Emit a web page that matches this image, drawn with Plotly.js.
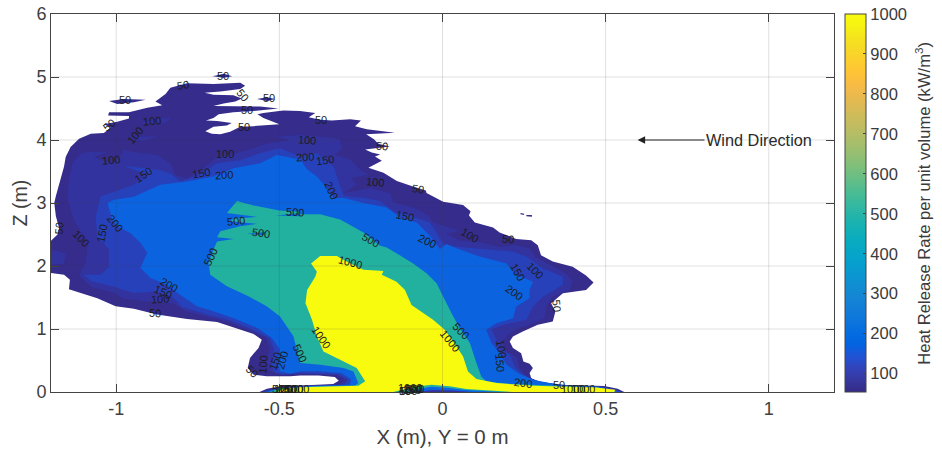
<!DOCTYPE html>
<html><head><meta charset="utf-8">
<script src="https://cdn.plot.ly/plotly-3.0.1.min.js"></script>
<style>html,body{margin:0;padding:0;background:#fff}</style></head>
<body><div id="chart" style="width:942px;height:452px"></div>
<script>
// Contour outlines, as [X (m), Z (m)]
const level50 = [[-1.2,1.89],[-1.16,1.86],[-1.142,1.78],[-1.145,1.63],[-1.109,1.57],[-1.058,1.49],[-1.002,1.36],[-.946,1.32],[-.875,1.23],[-.783,1.16],[-.691,1.11],[-.64,1.02],[-.579,.92],[-.554,.83],[-.564,.70],[-.59,.54],[-.597,.38],[-.579,.275],[-.539,.25],[-.467,.25],[-.436,.26],[-.38,.26],[-.33,.237],[-.318,.18],[-.335,.127],[-.40,.113],[-.497,.09],[-.538,.05],[-.561,0],[.557,0],[.537,.05],[.496,.095],[.379,.112],[.302,.153],[.272,.22],[.267,.30],[.277,.38],[.267,.45],[.248,.485],[.241,.617],[.216,.697],[.206,.80],[.216,.88],[.246,.96],[.292,1.066],[.338,1.12],[.346,1.277],[.333,1.41],[.369,1.567],[.44,1.62],[.463,1.74],[.44,1.85],[.399,1.99],[.338,2.07],[.302,2.17],[.292,2.33],[.272,2.41],[.226,2.43],[.175,2.53],[.155,2.61],[.099,2.69],[.081,2.80],[.086,2.87],[.063,2.97],[.002,3.02],[-.049,3.16],[-.051,3.2],[-.095,3.27],[-.14,3.35],[-.181,3.48],[-.227,3.56],[-.186,3.67],[-.207,3.74],[-.191,3.77],[-.217,3.80],[-.237,3.85],[-.191,3.88],[-.161,3.895],[-.197,3.94],[-.21,4.01],[-.234,4.09],[-.146,4.115],[-.232,4.17],[-.268,4.22],[-.25,4.31],[-.283,4.33],[-.339,4.31],[-.375,4.32],[-.41,4.36],[-.39,4.43],[-.437,4.46],[-.488,4.47],[-.549,4.43],[-.567,4.41],[-.549,4.35],[-.5,4.25],[-.579,4.22],[-.62,4.21],[-.651,4.13],[-.681,4.09],[-.707,4.10],[-.727,4.14],[-.702,4.21],[-.661,4.23],[-.646,4.27],[-.691,4.30],[-.725,4.31],[-.702,4.35],[-.686,4.41],[-.641,4.44],[-.579,4.46],[-.503,4.50],[-.559,4.53],[-.641,4.54],[-.702,4.54],[-.671,4.58],[-.635,4.61],[-.615,4.66],[-.641,4.71],[-.702,4.72],[-.729,4.75],[-.681,4.77],[-.62,4.81],[-.605,4.86],[-.62,4.91],[-.702,4.89],[-.783,4.90],[-.834,4.83],[-.849,4.73],[-.88,4.61],[-.859,4.55],[-.905,4.51],[-.961,4.44],[-1.022,4.44],[-1.025,4.39],[-.961,4.38],[-.961,4.34],[-.997,4.29],[-1.038,4.25],[-1.017,4.20],[-1.038,4.11],[-1.078,4.10],[-1.114,4.02],[-1.14,3.89],[-1.155,3.73],[-1.16,3.58],[-1.175,3.32],[-1.185,3.11],[-1.19,3.0],[-1.185,2.79],[-1.175,2.6],[-1.18,2.5],[-1.2,2.40]];
const island50a = [[-.705,5.01],[-.67,5.05],[-.645,5.01],[-.67,4.99]];
const island50b = [[-1.022,4.62],[-.976,4.65],[-.91,4.64],[-.946,4.60],[-.997,4.57]];
const island50c = [[-.569,4.65],[-.538,4.68],[-.513,4.65],[-.538,4.62]];
const speck50a = [[.239,2.84],[.25,2.83],[.25,2.81],[.239,2.82]];
const speck50b = [[.257,2.81],[.274,2.81],[.274,2.78],[.257,2.79]];

const level100 = [[-1.145,2.99],[-1.131,2.74],[-1.087,2.37],[-1.094,2.05],[-1.114,1.85],[-1.078,1.67],[-1.007,1.57],[-.976,1.48],[-.905,1.44],[-.824,1.40],[-.788,1.28],[-.722,1.19],[-.661,1.12],[-.6,.99],[-.544,.87],[-.529,.70],[-.539,.51],[-.534,.35],[-.508,.29],[-.436,.29],[-.38,.285],[-.325,.27],[-.30,.2],[-.315,.12],[-.40,.105],[-.50,.07],[-.54,.03],[-.553,0],[.553,0],[.53,.045],[.496,.088],[.369,.108],[.297,.153],[.257,.248],[.236,.38],[.226,.565],[.196,.644],[.183,.80],[.2,.908],[.226,.997],[.277,1.09],[.313,1.17],[.318,1.356],[.338,1.514],[.389,1.62],[.399,1.75],[.379,1.88],[.328,2.016],[.282,2.15],[.267,2.28],[.221,2.33],[.175,2.30],[.114,2.38],[.053,2.40],[.012,2.51],[.053,2.56],[-.029,2.69],[-.044,2.80],[-.09,2.93],[-.151,3.01],[-.161,3.16],[-.222,3.24],[-.303,3.16],[-.263,3.29],[-.278,3.40],[-.227,3.45],[-.253,3.53],[-.283,3.69],[-.329,3.76],[-.309,3.87],[-.314,4.0],[-.334,4.03],[-.436,4.08],[-.508,4.05],[-.467,4.0],[-.539,3.94],[-.63,3.79],[-.691,3.73],[-.742,3.52],[-.783,3.39],[-.819,3.45],[-.834,3.63],[-.875,3.76],[-.946,3.81],[-.977,3.84],[-.997,3.68],[-1.017,3.63],[-1.068,3.73],[-1.027,3.81],[-1.089,3.81],[-1.109,3.78],[-1.134,3.63],[-1.145,3.37],[-1.15,3.10]];
const patch100a = [[-.96,4.05],[-.87,4.06],[-.92,3.98]];
const patch100b = [[-.93,4.27],[-.83,4.37],[-.85,4.27]];
const patch100c = [[-1.2,2.26],[-1.155,2.2],[-1.16,2.04],[-1.2,2.02]];

const level150 = [[-1.048,3.105],[-1.063,2.79],[-1.058,2.47],[-1.022,2.26],[-1.022,1.99],[-1.048,1.86],[-1.099,1.86],[-1.078,1.76],[-1.007,1.67],[-.946,1.57],[-.875,1.60],[-.824,1.49],[-.798,1.35],[-.722,1.23],[-.651,1.14],[-.579,.98],[-.531,.857],[-.516,.67],[-.523,.46],[-.518,.33],[-.493,.275],[-.436,.30],[-.38,.295],[-.32,.28],[-.29,.2],[-.30,.115],[-.40,.10],[-.50,.065],[-.535,.025],[-.548,0],[.548,0],[.526,.04],[.481,.085],[.369,.105],[.292,.169],[.246,.274],[.221,.406],[.206,.59],[.173,.697],[.165,.828],[.15,.987],[.185,1.066],[.257,1.145],[.277,1.356],[.308,1.514],[.369,1.70],[.369,1.83],[.308,1.96],[.257,2.15],[.216,2.23],[.165,2.25],[.007,2.32],[-.039,2.69],[-.1,2.80],[-.151,2.87],[-.191,3.03],[-.242,3.08],[-.303,3.11],[-.334,3.58],[-.36,3.69],[-.385,3.79],[-.436,3.74],[-.498,3.87],[-.559,3.79],[-.62,3.68],[-.691,3.63],[-.742,3.45],[-.803,3.34],[-.834,3.47],[-.865,3.52],[-.977,3.59],[-.905,3.45],[-.946,3.29],[-1.007,3.18]];

const level200 = [[-1.027,3.0],[-1.012,2.74],[-.997,2.63],[-.956,2.52],[-.926,2.37],[-.905,2.21],[-.926,1.97],[-.895,1.81],[-.844,1.70],[-.798,1.52],[-.753,1.36],[-.702,1.28],[-.64,1.17],[-.569,1.02],[-.523,.857],[-.498,.67],[-.508,.46],[-.498,.33],[-.467,.29],[-.436,.33],[-.38,.33],[-.31,.30],[-.28,.2],[-.285,.115],[-.40,.095],[-.50,.06],[-.53,.02],[-.54,0],[.54,0],[.52,.035],[.475,.083],[.369,.102],[.277,.195],[.231,.30],[.196,.433],[.175,.617],[.15,.776],[.134,.987],[.165,1.09],[.216,1.17],[.226,1.356],[.267,1.488],[.267,1.62],[.277,1.75],[.226,1.86],[.196,2.04],[.114,2.15],[.043,2.28],[.012,2.35],[-.008,2.27],[-.039,2.48],[-.079,2.69],[-.13,2.77],[-.171,2.93],[-.242,3.0],[-.303,3.08],[-.334,3.08],[-.354,3.24],[-.385,3.42],[-.415,3.53],[-.436,3.69],[-.508,3.76],[-.559,3.63],[-.64,3.55],[-.702,3.42],[-.783,3.34],[-.865,3.29],[-.946,3.1],[-1.007,3.05]];

const level500 = [[-.63,3.03],[-.661,2.84],[-.569,2.78],[-.641,2.75],[-.651,2.71],[-.569,2.67],[-.62,2.63],[-.681,2.55],[-.691,2.455],[-.64,2.43],[-.691,2.39],[-.702,2.26],[-.717,2.05],[-.712,1.86],[-.661,1.68],[-.595,1.52],[-.539,1.36],[-.498,1.20],[-.457,.884],[-.442,.566],[-.436,.459],[-.375,.433],[-.303,.38],[-.273,.327],[-.258,.142],[-.268,.105],[-.334,.095],[-.436,.085],[-.50,.055],[-.52,.015],[-.53,0],[.535,0],[.51,.035],[.47,.08],[.308,.106],[.196,.132],[.134,.169],[.119,.248],[.104,.459],[.084,.776],[.053,1.013],[.033,1.198],[.002,1.514],[-.018,1.726],[-.049,1.884],[-.09,2.04],[-.14,2.2],[-.171,2.295],[-.191,2.32],[-.242,2.53],[-.314,2.74],[-.375,2.82],[-.436,2.82],[-.44,2.86],[-.50,2.88],[-.579,2.96]];
const streak200a = [[-.51,2.80],[-.437,2.84],[-.437,2.79]];
const streak200b = [[-.6,2.51],[-.54,2.54],[-.55,2.49]];

const level1000 = [[-.403,2.04],[-.375,2.16],[-.324,2.16],[-.283,2.04],[-.242,1.94],[-.181,1.92],[-.186,1.86],[-.141,1.75],[-.115,1.62],[-.095,1.38],[-.029,1.145],[.007,.987],[.043,.723],[.063,.565],[.078,.327],[.104,.206],[.165,.142],[.277,.10],[.47,.072],[.53,.037],[.526,0],[-.505,0],[-.49,.045],[-.436,.075],[-.258,.10],[-.237,.169],[-.263,.38],[-.303,.486],[-.365,.644],[-.385,.881],[-.4,1.145],[-.42,1.41],[-.415,1.62],[-.39,1.83],[-.385,1.91]];

const archTeal = [[-.151,0],[-.13,.026],[-.09,.08],[-.034,.116],[.022,.09],[.073,.047],[.155,.02],[.216,0]];
const archBlue = [[-.10,0],[-.07,.05],[-.034,.085],[.02,.065],[.07,.03],[.13,.012],[.18,0]];
const archDark = [[-.08,0],[-.03,.03],[.03,.025],[.09,0]];

// Colours of the contour bands
const color50 = '#352c8b', color100 = '#3333a0', color150 = '#2741bb', color200 = '#0b63df', color500 = '#22b09f', color1000 = '#f9fb0e';

// Contour labels
const labelX = [-.674,-.795,-.972,-.612,-.533,-.6,-.607,-.89,-.944,-1.022,-1.017,-.918,-.739,-.671,-.666,-.416,-.422,-.373,-.452,-.359,-.342,-.186,-.208,-.074,-.115,-.219,-.047,.083,.202,-.285,.231,.282,.218,.351,.057,.024,-.373,-.437,.18,.175,.246,.356,-1.004,-1.043,-1.109,-1.175,-.632,-.557,-.712,-.837,-.856,-.865,-.88,-.549,-.513,-.493,-.585];
const labelZ = [5.02,4.87,4.63,4.72,4.66,4.47,4.20,4.30,4.07,4.24,3.68,3.45,3.48,3.44,3.77,4.0,3.73,4.31,2.86,3.69,3.20,3.91,3.33,3.23,2.80,2.42,2.39,2.50,2.43,2.06,1.91,1.93,1.58,1.37,.97,.81,.87,.62,.68,.47,.14,.105,2.68,2.52,2.44,2.6,2.71,2.53,2.15,1.70,1.59,1.48,1.25,.44,.49,.50,.33];
const labelText = ['50','50','50','50','50','50','50','100','100','50','100','150','150','200','100','100','200','50','500','150','200','50','100','50','150','500','200','100','50','1000','150','100','200','50','500','1000','1000','500','100','150','200','50','200','150','100','50','500','500','500','200','150','100','50','100','150','200','50'];
const labelAngle = [0,-10,0,50,0,0,0,-5,-50,-40,-5,-35,-10,-3,0,5,-3,0,3,-8,65,5,5,8,12,30,25,30,5,15,60,45,35,85,45,50,55,65,80,85,8,0,50,-80,45,-85,-5,8,-65,30,25,-3,5,-85,-70,-75,45];

// Stacks of overlapping labels along the burner base
const baseX = [-.505,-.49,-.478,-.467,-.455,-.445,-.115,-.105,-.095,-.09,-.085,-.1,.335,.345,.355,.365,.375,.384,.40,.43];
const baseZ = [.045,.05,.05,.05,.05,.05,.02,.02,.03,.04,.05,.065,-.005,-.005,-.005,-.005,-.005,-.005,.055,.055];
const baseText = ['50','100','150','200','500','1000','50','100','150','200','500','1000','50','100','150','200','500','1000','1000','1000'];

const xTicks = [-1,-.5,0,.5,1], xTickText = ['-1','-0.5','0','0.5','1'];
const zTicks = [0,1,2,3,4,5,6];
const cbTicks = [100,200,300,400,500,600,700,800,900,1000];
const parulaRGB = [[.2081,.1663,.5292],[.2123,.2138,.627],[.1959,.2645,.7279],[.1253,.3242,.8303],[.0117,.3875,.882],[.0165,.4266,.8786],[.0498,.4586,.8641],[.0723,.4887,.8467],[.0793,.52,.8312],[.0641,.557,.824],[.0343,.5966,.8199],[.0239,.6287,.8038],[.0228,.6535,.7768],[.0384,.6743,.7436],[.0843,.6928,.7062],[.1453,.7098,.6646],[.2178,.725,.6193],[.3022,.7376,.5712],[.3953,.7459,.5244],[.4871,.7491,.484],[.5709,.7485,.4494],[.6473,.7456,.4188],[.7184,.7411,.3905],[.7858,.7356,.3633],[.8507,.7299,.336],[.9139,.7258,.3063],[.9739,.7314,.2666],[.999,.7653,.2164],[.988,.8066,.1794],[.9697,.8481,.1475],[.9589,.8949,.1132],[.9661,.9514,.0755],[.9763,.9831,.0538]];
const parula = parulaRGB.map((c,i)=>[i/(parulaRGB.length-1),'rgb('+c.map(v=>Math.round(v*255)).join(',')+')']);
const cbMin = 54, cbMax = 1000;

function band(points, color){
  return {type:'scatter',mode:'lines',x:points.map(p=>p[0]),y:points.map(p=>p[1]),fill:'toself',fillcolor:color,line:{width:0,color:color},hoverinfo:'skip',showlegend:false};
}
const gridX=[], gridY=[];
xTicks.forEach(v=>{gridX.push(v,v,null);gridY.push(0,6,null);});
zTicks.slice(1,-1).forEach(v=>{gridX.push(-1.2,1.2,null);gridY.push(v,v,null);});

const traces = [
  band(level50,color50),band(island50a,color50),band(island50b,color50),band(island50c,color50),band(speck50a,color50),band(speck50b,color50),
  band(level100,color100),band(patch100a,color100),band(patch100b,color100),band(patch100c,color100),
  band(level150,color150),band(level200,color200),band(level500,color500),band(streak200a,color200),band(streak200b,color200),band(level1000,color1000),
  band(archTeal,color500),band(archBlue,color200),band(archDark,color100),
  {type:'scatter',mode:'lines',x:gridX,y:gridY,line:{color:'rgba(60,60,60,0.16)',width:1},hoverinfo:'skip',showlegend:false},
  {type:'scatter',mode:'markers',x:[-9,-9],y:[-9,-9],hoverinfo:'skip',showlegend:false,
   marker:{size:1,color:[cbMin,cbMax],cmin:cbMin,cmax:cbMax,colorscale:parula,showscale:true,
    colorbar:{x:1.0138,xanchor:'left',xpad:0,y:0,yanchor:'bottom',ypad:0,len:1,lenmode:'fraction',thickness:20.5,thicknessmode:'pixels',
     outlinecolor:'#444',outlinewidth:1,ticks:'inside',ticklen:3,tickcolor:'#444',tickvals:cbTicks,ticktext:cbTicks.map(String),
     tickfont:{family:'Liberation Sans',size:16.5,color:'#3a3a3a'}}}}
];

const annotations = [];
labelX.forEach((x,i)=>annotations.push({x:x,y:labelZ[i],xref:'x',yref:'y',text:labelText[i],textangle:labelAngle[i],showarrow:false,font:{family:'Liberation Sans',size:11,color:'#1c1c1c'}}));
baseX.forEach((x,i)=>annotations.push({x:x,y:baseZ[i],xref:'x',yref:'y',text:baseText[i],showarrow:false,font:{family:'Liberation Sans',size:11,color:'#1c1c1c'}}));
annotations.push({x:.598,y:4,xref:'x',yref:'y',ax:.97,ay:4,axref:'x',ayref:'y',text:'Wind Direction',showarrow:true,arrowhead:2,arrowsize:1.5,arrowwidth:1,arrowcolor:'#222',font:{family:'Liberation Sans',size:16.3,color:'#2a2a2a'}});
annotations.push({x:1.13,y:.5,xref:'paper',yref:'paper',text:'Heat Release Rate per unit volume (kW/m<sup>3</sup>)',textangle:-90,showarrow:false,font:{family:'Liberation Sans',size:16.6,color:'#3a3a3a'}});

const layout = {
  width:942,height:452,paper_bgcolor:'#fff',plot_bgcolor:'#fff',showlegend:false,
  margin:{l:51,r:107.5,t:14.3,b:59.7,pad:0},
  font:{family:'Liberation Sans',color:'#404040'},
  xaxis:{range:[-1.2,1.2],tickvals:xTicks,ticktext:xTickText,ticks:'inside',ticklen:8,tickcolor:'#444',showgrid:false,zeroline:false,showline:true,linecolor:'#444',linewidth:1,mirror:'ticks',
    tickfont:{size:18,color:'#404040'},title:{text:'X (m), Y = 0 m',font:{size:20.5,color:'#404040'},standoff:12}},
  yaxis:{range:[0,6],tickvals:zTicks,ticks:'inside',ticklen:8,tickcolor:'#444',showgrid:false,zeroline:false,showline:true,linecolor:'#444',linewidth:1,mirror:'ticks',
    tickfont:{size:18,color:'#404040'},title:{text:'Z (m)',font:{size:19.5,color:'#404040'},standoff:3}},
  annotations:annotations
};
Plotly.newPlot('chart',traces,layout,{staticPlot:true,displayModeBar:false});
</script></body></html>
